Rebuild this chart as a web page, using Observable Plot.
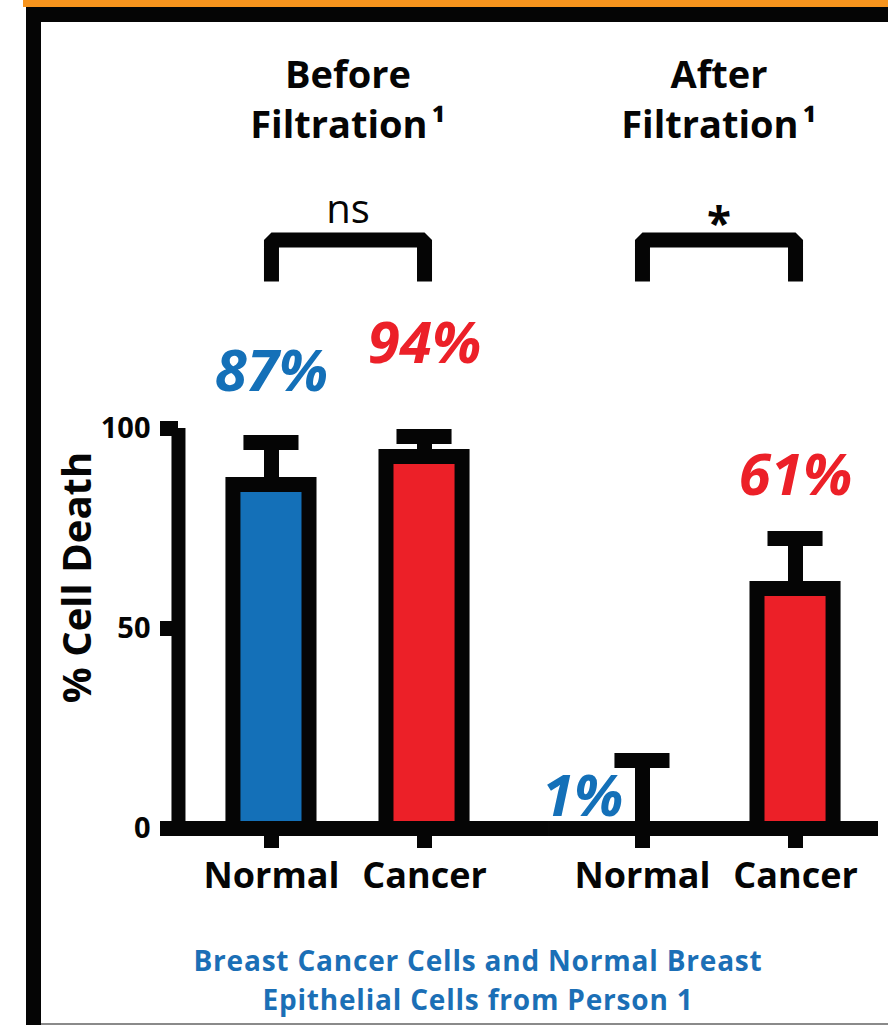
<!DOCTYPE html>
<html><head><meta charset="utf-8">
<script src="https://cdn.jsdelivr.net/npm/d3@7"></script>
<script src="https://cdn.jsdelivr.net/npm/@observablehq/plot@0.6"></script>
<style>
html,body{margin:0;padding:0;background:#fff;overflow:hidden;}
#wrap{position:relative;width:888px;height:1025px;font-family:"Open Sans",sans-serif;}
#chart svg{display:block;}
.deco{position:absolute;z-index:5;}
#caption{margin-top:21px;padding-left:68px;text-align:center;font-size:28px;letter-spacing:0.8px;font-weight:700;color:#1b6fb6;}
#caption div{height:38.5px;line-height:38.5px;}
</style></head><body>
<div id="wrap">
 <div id="chart"></div>
 <div id="caption"><div>Breast Cancer Cells and Normal Breast</div><div>Epithelial Cells from Person 1</div></div>
 <div class="deco" style="left:23px;top:0;width:865px;height:7px;background:#f7941d"></div>
 <div class="deco" style="left:26px;top:7px;width:862px;height:15px;background:#050505"></div>
 <div class="deco" style="left:26px;top:7px;width:15px;height:1018px;background:#050505"></div>
 <div class="deco" style="left:41px;top:1023px;width:847px;height:2px;background:#8a8a8a"></div>
</div>
<script>
const phases = ["Before", "After"];
const phaseTitles = ["Before\nFiltration\u200A¹", "After\nFiltration\u200A¹"];
const cells = ["Normal", "Cancer"];
const cellColors = ["#1470b8", "#ec2028"];
const meanBefore = [87, 94];
const meanAfter = [1, 61];
const upperBefore = [96.5, 98];
const upperAfter = [17, 72.5];
const pctBefore = ["87%", "94%"];
const pctAfter = ["1%", "61%"];
const significance = ["ns", "*"];
const yTicks = [0, 50, 100];
const yLabel = "% Cell Death";

const means = [meanBefore, meanAfter];
const uppers = [upperBefore, upperAfter];
const pcts = [pctBefore, pctAfter];
const bars = phases.flatMap((p, i) => cells.map((c, j) => ({
  phase: p, cell: c, value: means[i][j], upper: uppers[i][j], label: pcts[i][j]
})));

// bracket levels (in % units, above the axis)
const bracketLow = 136.75, bracketHigh = 147.1;
const brackets = phases.flatMap(p => [
  {phase: p, cell: cells[0], y: bracketLow},
  {phase: p, cell: cells[0], y: bracketHigh},
  {phase: p, cell: cells[1], y: bracketHigh},
  {phase: p, cell: cells[1], y: bracketLow}
]);
const sig = phases.map((p, i) => ({phase: p, text: significance[i]}));
const titles = phases.map((p, i) => ({phase: p, text: phaseTitles[i]}));
const black = "#050505";

const chart = Plot.plot({
  width: 888, height: 920,
  marginLeft: 178, marginRight: 0, marginTop: 428, marginBottom: 92,
  style: {fontFamily: '"Open Sans", sans-serif', fontWeight: 700, color: black, background: "transparent", overflow: "visible"},
  fx: {domain: phases, paddingInner: 0.0863, paddingOuter: 0, round: false, axis: null, label: null},
  x: {domain: cells, paddingInner: 0.405, paddingOuter: 0.31, round: false, label: null},
  y: {domain: [0, 100], label: null},
  color: {domain: cells, range: cellColors},
  marks: [
    // bar outlines
    Plot.barY(bars, {fx: "phase", x: "cell", y: "value", fill: black, dy: -3}),
    // coloured bar fill
    Plot.barY(bars, {fx: "phase", x: "cell", y: "value", fill: "cell", insetLeft: 15, insetRight: 15, insetTop: 12}),
    // error bars
    Plot.ruleX(bars, {fx: "phase", x: "cell", y1: "value", y2: "upper", stroke: black, strokeWidth: 15}),
    Plot.tickY(bars, {fx: "phase", x: "cell", y: "upper", stroke: black, strokeWidth: 15, insetLeft: 18, insetRight: 18}),
    // baseline
    Plot.ruleY([{phase: phases[0]}], {fx: "phase", y: () => 0, stroke: black, strokeWidth: 15, insetRight: -32}),
    Plot.ruleY([{phase: phases[1]}], {fx: "phase", y: () => 0, stroke: black, strokeWidth: 15, insetRight: 10}),
    // y axis line
    Plot.ruleX([{phase: phases[0]}], {fx: "phase", x: () => cells[0], y1: () => 0, y2: () => 100, dx: -93, stroke: black, strokeWidth: 14, insetTop: -3}),
    Plot.axisY({ticks: yTicks, tickSize: 18, tickPadding: 10, strokeWidth: 15, fontSize: 29, label: null, tickFormat: d => String(d)}),
    Plot.axisX({tickSize: 20, tickPadding: 14, strokeWidth: 15, fontSize: 36, label: null}),
    // y label
    Plot.text([{phase: phases[0]}], {fx: "phase", frameAnchor: "left", textAnchor: "middle", y: () => 62.75, text: () => yLabel, rotate: -90, dx: -100, fontSize: 40, fill: black}),
    // value labels
    Plot.text(bars.filter(d => d.value >= 5), {fx: "phase", x: "cell", y: d => d.value + 22.5, text: "label", fill: "cell", fontSize: 58, fontStyle: "italic", fontWeight: 700, lineAnchor: "bottom"}),
    Plot.text(bars.filter(d => d.value < 5), {fx: "phase", x: "cell", y: d => d.value + 2.25, text: "label", fill: "cell", fontSize: 58, fontStyle: "italic", fontWeight: 700, lineAnchor: "bottom", textAnchor: "end", dx: -19}),
    // significance brackets
    Plot.line(brackets, {fx: "phase", x: "cell", y: "y", z: "phase", stroke: black, strokeWidth: 15, strokeLinejoin: "miter", strokeLinecap: "butt"}),
    Plot.text(sig.filter(d => d.text === "ns"), {fx: "phase", y: () => 151.5, text: "text", fontSize: 40, fontWeight: 400, lineAnchor: "bottom", fill: black}),
    Plot.text(sig.filter(d => d.text !== "ns"), {fx: "phase", y: () => 147.4, text: "text", fontSize: 44, fontWeight: 700, lineAnchor: "bottom", fill: black}),
    // facet titles
    Plot.text(titles, {fx: "phase", y: () => 172.75, text: "text", fontSize: 38, fontWeight: 700, lineAnchor: "bottom", lineHeight: 1.29, fill: black})
  ]
});
document.getElementById("chart").appendChild(chart);
</script>
</body></html>
